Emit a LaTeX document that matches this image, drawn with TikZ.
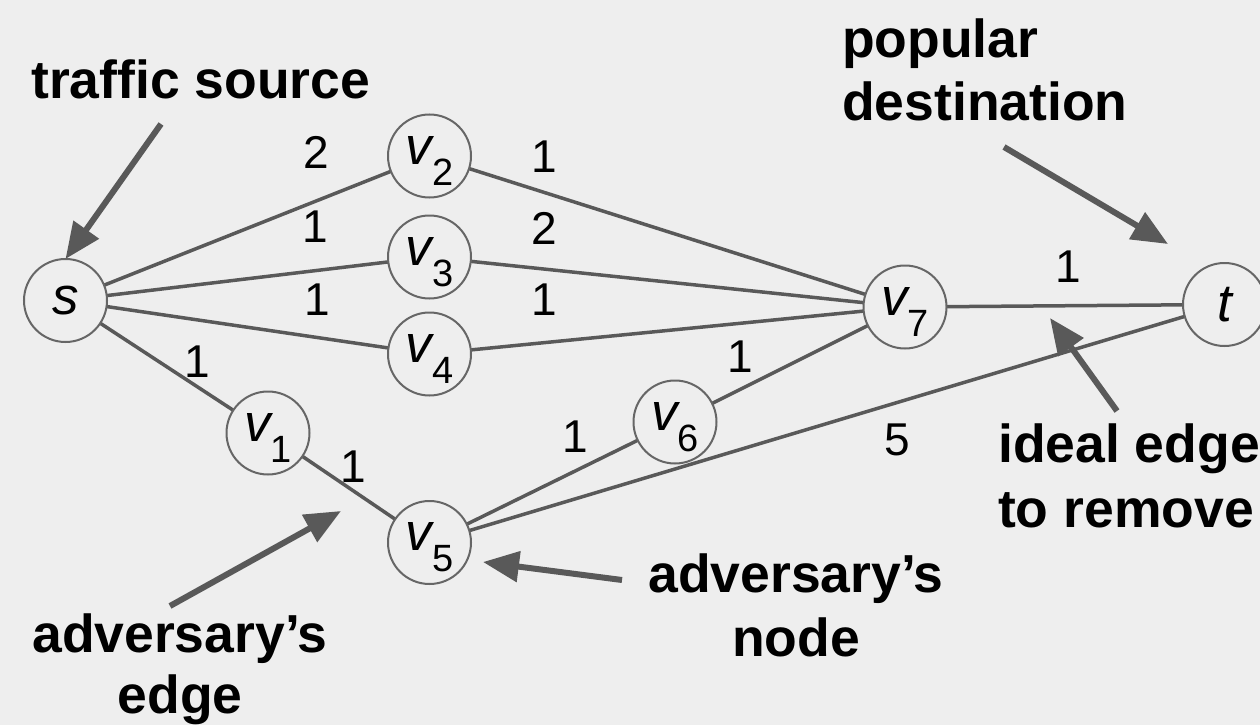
\documentclass[tikz,border=0pt]{standalone}
\usepackage{fontspec}
\setmainfont{Liberation Sans}
\usetikzlibrary{arrows.meta,backgrounds}
\definecolor{bgc}{HTML}{EEEEEE}
\definecolor{edgec}{HTML}{595959}
\definecolor{ringc}{HTML}{666666}
% italic v with an upright lowered index
\newcommand{\vsub}[1]{{\itshape v}\raisebox{-21pt}[0pt][12pt]{\fontsize{38}{38}\selectfont\upshape #1}}
\begin{document}
\begin{tikzpicture}[x=1pt,y=-1pt,
  vert/.style={circle, draw=ringc, line width=2pt, fill=bgc, minimum size=83pt,
    inner sep=0pt, outer sep=0pt, font=\fontsize{53}{53}\selectfont\itshape},
  link/.style={draw=edgec, line width=3.5pt},
  ptr/.style={draw=edgec, line width=6pt, -{Triangle[length=36pt,width=30pt]}},
  wt/.style={font=\fontsize{46}{46}\selectfont, inner sep=0pt},
  txt/.style={font=\fontsize{53.5}{62}\selectfont\bfseries, inner sep=0pt}]
\useasboundingbox (0,0) rectangle (1260,725);
\begin{pgfonlayer}{background}
  \fill[bgc] (0,0) rectangle (1260,725);
\end{pgfonlayer}

% vertices
\node[vert] (s)  at (65.5,300.5) {s};
\node[vert] (v2) at (429.5,156)  {\vsub{2}};
\node[vert] (v3) at (429.5,257)  {\vsub{3}};
\node[vert] (v4) at (429.5,354)  {\vsub{4}};
\node[vert] (v1) at (268,433)    {\vsub{1}};
\node[vert] (v5) at (429.5,542.5){\vsub{5}};
\node[vert] (v6) at (675,422)    {\vsub{6}};
\node[vert] (v7) at (905,307)    {\vsub{7}};
\node[vert] (t)  at (1224.5,304.5) {t};

% edges, kept beneath the vertices
\begin{pgfonlayer}{background}
  \draw[link] (s) -- (v2);
  \draw[link] (s) -- (v3);
  \draw[link] (s) -- (v4);
  \draw[link] (s) -- (v1);
  \draw[link] (v1) -- (v5);
  \draw[link] (v2) -- (v7);
  \draw[link] (v3) -- (v7);
  \draw[link] (v4) -- (v7);
  \draw[link] (v5) -- (v6);
  \draw[link] (v6) -- (v7);
  \draw[link] (v7) -- (t);
  \draw[link] (v5) -- (t);
\end{pgfonlayer}

% edge weights
\node[wt] (ws2) at (316,152) {2};
\node[wt] (w27) at (544,157) {1};
\node[wt] (ws3) at (315,227) {1};
\node[wt] (w37) at (544,228) {2};
\node[wt] (ws4) at (317,300) {1};
\node[wt] (w47) at (544,300) {1};
\node[wt] (ws1) at (197,362) {1};
\node[wt] (w15) at (353,467) {1};
\node[wt] (w56) at (575,437) {1};
\node[wt] (w67) at (740,357) {1};
\node[wt] (w7t) at (1068,267) {1};
\node[wt] (w5t) at (897,440) {5};

% annotations
\node[txt, anchor=base west] (src)  at (31,98)   {traffic source};
\node[txt, anchor=base west] (pop1) at (842,58)  {popular};
\node[txt, anchor=base west] (pop2) at (842,120) {destination};
\node[txt, anchor=base] (ide1) at (1129,462) {ideal edge};
\node[txt, anchor=base] (ide2) at (1126,527) {to remove};
\node[txt, anchor=base] (ae1)  at (180,652)  {adversary’s};
\node[txt, anchor=base] (ae2)  at (180,713)  {edge};
\node[txt, anchor=base] (an1)  at (796,592)  {adversary’s};
\node[txt, anchor=base] (an2)  at (796,656)  {node};

% pointer arrows
\coordinate (a1) at (161,124);
\coordinate (a2) at (1004,147);  \coordinate (b2) at (1168,244);
\coordinate (a3) at (1117,411);  \coordinate (b3) at (1050,318);
\coordinate (a4) at (170,606);   \coordinate (b4) at (341,511);
\coordinate (a5) at (622,580);   \coordinate (b5) at (483,562);
\draw[ptr] (a1) -- (s.north);
\draw[ptr] (a2) -- (b2);
\draw[ptr] (a3) -- (b3);
\draw[ptr] (a4) -- (b4);
\draw[ptr] (a5) -- (b5);
\end{tikzpicture}
\end{document}
